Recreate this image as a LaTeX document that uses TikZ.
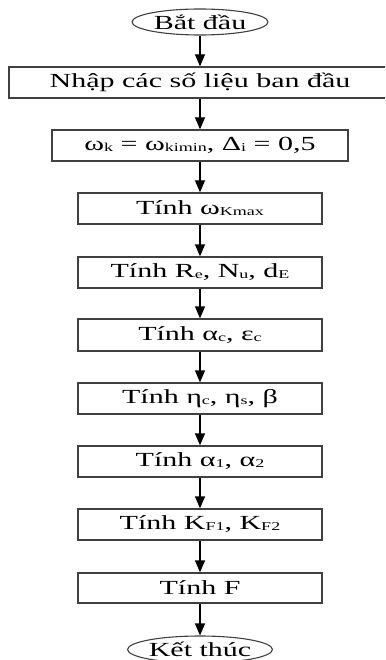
\documentclass[tikz,border=0pt]{standalone}
\usepackage{fontspec}
\setmainfont{Liberation Serif}[FakeStretch=1.5]
\usetikzlibrary{arrows.meta,shapes.geometric}
\newcommand\sbs[1]{\raisebox{-0.8pt}{\fontsize{12}{12}\selectfont #1}}
\tikzset{
  boxst/.style={draw=black!75, line width=1.3pt, rectangle, inner sep=0pt,
    minimum height=31pt, font=\fontsize{20}{22}\selectfont},
  ovalst/.style={draw=black!75, line width=1.1pt, ellipse, inner sep=0pt,
    font=\fontsize{20}{22}\selectfont},
  arr/.style={draw=black, line width=1.3pt, -{Triangle[length=12pt,width=10pt]}}
}
\begin{document}
\begin{tikzpicture}[x=1pt,y=-1pt]
\useasboundingbox (0,0) rectangle (385,660);
\clip (0,0) rectangle (385,660);
\fill[white] (0,0) rectangle (385,660);
\node[ovalst, minimum width=136pt, minimum height=26pt] (s) at (200,22) {Bắt đầu};
\node[boxst, minimum width=382pt] (b1) at (200,82.5) {Nhập các số liệu ban đầu};
\node[boxst, minimum width=296pt] (b2) at (200,145.5) {ω\sbs{k} = ω\sbs{kimin}, Δ\sbs{i} = 0,5};
\node[boxst, minimum width=244pt] (b3) at (200,208.5) {Tính ω\sbs{Kmax}};
\node[boxst, minimum width=244pt] (b4) at (200,272.5) {Tính R\sbs{e}, N\sbs{u}, d\sbs{E}};
\node[boxst, minimum width=244pt, minimum height=32pt] (b5) at (200,335) {Tính α\sbs{c}, ε\sbs{c}};
\node[boxst, minimum width=244pt] (b6) at (200,398.5) {Tính η\sbs{c}, η\sbs{s}, β};
\node[boxst, minimum width=244pt] (b7) at (200,461.5) {Tính α\sbs{1}, α\sbs{2}};
\node[boxst, minimum width=244pt] (b8) at (200,524.5) {Tính K\sbs{F1}, K\sbs{F2}};
\node[boxst, minimum width=244pt, minimum height=30pt] (b9) at (200,588) {Tính F};
\node[ovalst, minimum width=134pt, minimum height=27pt] (e) at (200,649.5) {Kết thúc};
\draw[arr] (s) -- (b1);
\draw[arr] (b1) -- (b2);
\draw[arr] (b2) -- (b3);
\draw[arr] (b3) -- (b4);
\draw[arr] (b4) -- (b5);
\draw[arr] (b5) -- (b6);
\draw[arr] (b6) -- (b7);
\draw[arr] (b7) -- (b8);
\draw[arr] (b8) -- (b9);
\draw[arr] (b9) -- (e);
\end{tikzpicture}
\end{document}
